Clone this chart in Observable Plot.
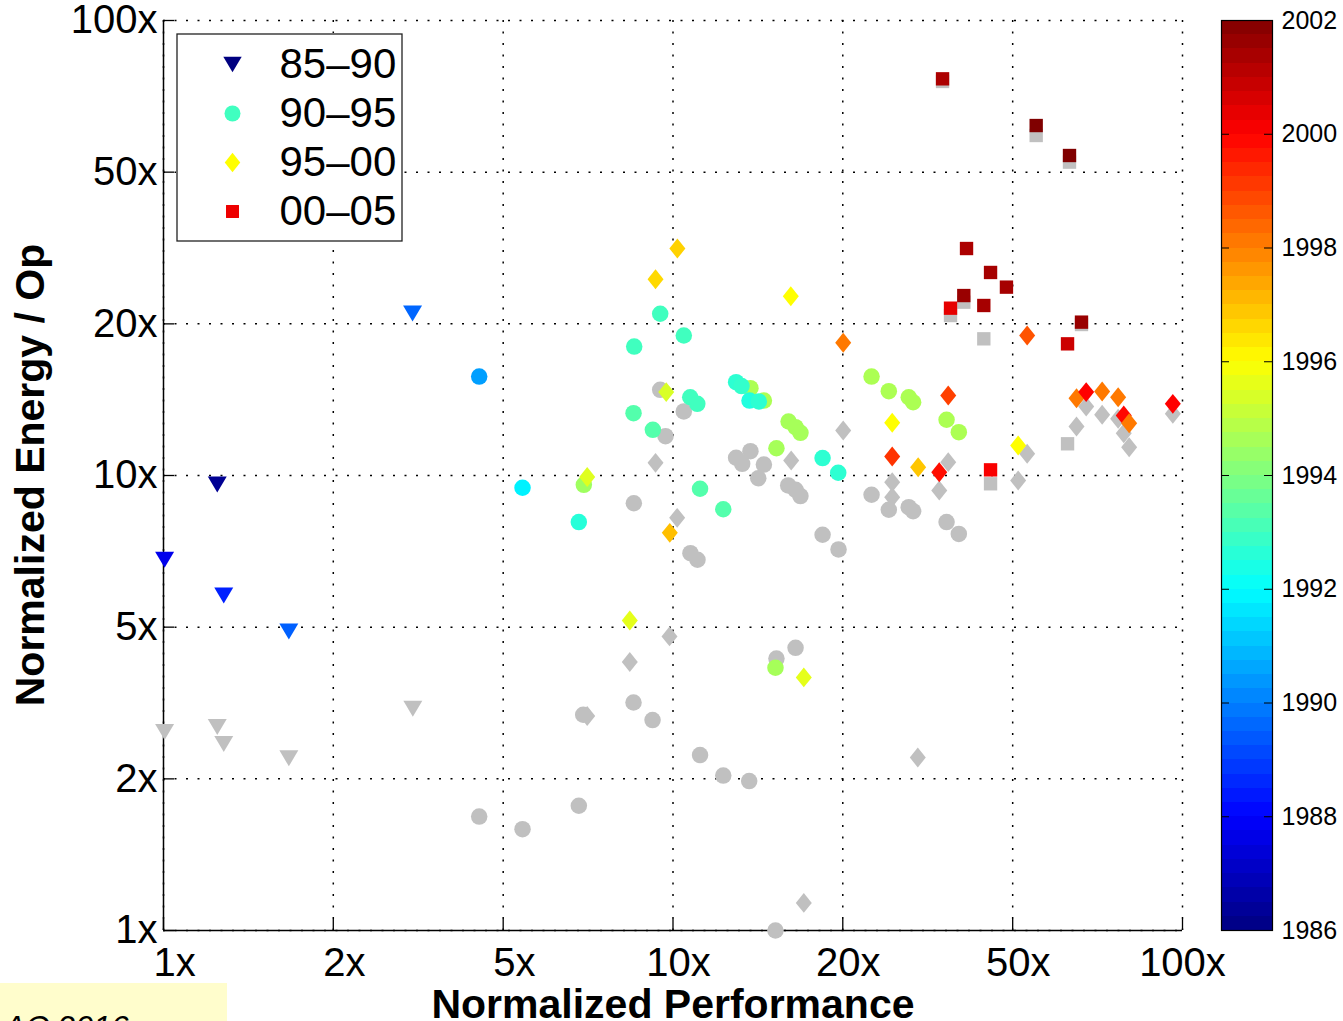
<!DOCTYPE html>
<html>
<head>
<meta charset="utf-8">
<script src="https://cdn.jsdelivr.net/npm/d3@7"></script>
<script src="https://cdn.jsdelivr.net/npm/@observablehq/plot@0.6"></script>
<style>
  html, body { margin: 0; padding: 0; width: 1343px; height: 1021px; overflow: hidden; background: #fff; }
  #wrap { position: relative; width: 1343px; height: 1021px; overflow: hidden; font-family: "Liberation Sans", Arial, Helvetica, sans-serif; color: #000; }
  .abs { position: absolute; }
  .abs svg { display: block; }
  #ytitle { left: -270px; top: 450px; width: 600px; height: 50px; line-height: 50px; text-align: center; font-size: 41px; font-weight: bold; transform: rotate(-90deg); white-space: nowrap; }
  #xtitle { left: 373px; top: 979px; width: 600px; height: 50px; line-height: 50px; text-align: center; font-size: 41px; font-weight: bold; white-space: nowrap; }
  #note { left: 0; top: 983px; width: 227px; height: 60px; background: #fffdcc; }
  #note span { position: absolute; left: 4px; top: 24px; font-size: 32px; line-height: 40px; font-style: italic; white-space: nowrap; }
</style>
</head>
<body>
<div id="wrap"></div>
<script>
// ---------------- data ----------------
// axis ticks (evenly spaced on the log axis) and their printed labels
const xTicks = [1, 2.154, 4.642, 10, 21.54, 46.42, 100];
const xTickLabels = ["\u00a0\u00a01x", "\u00a0\u00a02x", "\u00a0\u00a05x", "\u00a010x", "\u00a020x", "\u00a050x", "100x"];
const yTicks = [1, 2.154, 4.642, 10, 21.54, 46.42, 100];
const yTickLabels = ["1x", "2x", "5x", "10x", "20x", "50x", "100x"];
const yearTicks = [1986, 1988, 1990, 1992, 1994, 1996, 1998, 2000, 2002];
const legendLabels = ["85\u201390", "90\u201395", "95\u201300", "00\u201305"];
const legendColors = ["#000080", "#40ffc0", "#ffff00", "#ee0000"];
const xTitle = "Normalized Performance";
const yTitle = "Normalized Energy / Op";
const noteText = "AC 2016";

// [normalized performance, normalized energy/op, year]
const tri8590 = [
  [1.005, 6.53, 1987.7], [1.275, 9.555, 1986.3], [1.313, 5.45, 1988.5],
  [1.762, 4.54, 1989.5], [3.082, 22.70, 1989.6]
];
const circ9095 = [
  [4.165, 16.50, 1990.5], [5.066, 9.40, 1991.8], [6.534, 7.90, 1992.6], [6.683, 9.54, 1994.5],
  [8.392, 19.20, 1993.0], [9.438, 22.67, 1993.0], [10.50, 20.31, 1993.0], [8.366, 13.71, 1993.3],
  [9.130, 12.60, 1993.3], [10.81, 14.86, 1993.0], [11.16, 14.37, 1993.0], [11.30, 9.35, 1993.3],
  [12.55, 8.43, 1993.3], [14.19, 15.56, 1994.7], [13.30, 16.04, 1992.7], [13.63, 15.72, 1992.8],
  [15.08, 14.61, 1994.7], [14.13, 14.61, 1992.5], [14.74, 14.54, 1992.7], [16.86, 13.14, 1994.6],
  [17.40, 12.77, 1994.6], [17.79, 12.41, 1994.6], [15.96, 11.48, 1994.6], [19.66, 10.92, 1992.7],
  [21.10, 10.14, 1992.7], [15.89, 3.78, 1994.6], [24.53, 16.50, 1994.7], [26.52, 15.32, 1994.7],
  [29.02, 14.86, 1994.7], [29.60, 14.49, 1994.7], [34.43, 13.26, 1994.7], [36.39, 12.45, 1994.7]
];
const diam9500 = [
  [10.20, 31.54, 1996.7], [9.241, 27.01, 1996.6], [17.03, 24.78, 1996.0], [21.58, 19.57, 1998.1],
  [9.698, 15.25, 1995.4], [26.93, 13.06, 1996.0], [26.93, 11.01, 1999.2], [6.786, 9.92, 1995.5],
  [9.856, 7.48, 1997.0], [8.226, 4.80, 1995.6], [18.06, 3.60, 1995.6], [34.69, 14.99, 1999.0],
  [30.28, 10.43, 1996.9], [33.31, 10.17, 1999.8], [47.58, 11.64, 1996.0], [49.56, 20.31, 1998.7],
  [61.94, 14.79, 1998.1], [64.71, 15.25, 2000.0], [69.55, 15.30, 1998.1], [74.76, 14.86, 1998.1],
  [76.68, 13.55, 1999.9], [78.58, 13.03, 1998.1], [95.72, 14.37, 2000.0]
];
const sq0005 = [
  [33.81, 74.44, 2001.3], [51.62, 58.77, 2002.0], [60.01, 50.50, 2002.0], [37.68, 31.54, 2001.3],
  [42.00, 27.94, 2001.4], [45.13, 25.94, 2001.4], [37.22, 24.86, 2001.6], [35.05, 23.32, 2000.4],
  [40.74, 23.64, 2001.4], [63.35, 21.73, 2001.6], [59.48, 19.47, 2000.8], [42.00, 10.29, 2000.1]
];
// grey (second normalization) counterparts: [performance, energy/op]
const triGrey = [[1.005, 2.73], [1.275, 2.80], [1.313, 2.57], [1.762, 2.39], [3.086, 3.07]];
const circGrey = [
  [4.165, 1.78], [5.066, 1.67], [6.534, 1.88], [6.665, 2.98], [8.366, 3.17], [9.117, 2.90],
  [8.378, 8.69], [9.438, 15.43], [9.667, 12.20], [10.50, 13.83], [10.82, 6.75], [11.17, 6.53],
  [11.30, 2.43], [12.55, 2.19], [14.11, 2.13], [13.30, 10.94], [13.67, 10.61], [14.19, 11.31],
  [15.08, 10.57], [14.70, 9.86], [16.83, 9.51], [17.40, 9.30], [17.79, 9.01], [17.40, 4.18],
  [15.96, 3.96], [15.89, 1.00], [19.66, 7.41], [21.13, 6.88], [24.53, 9.07], [26.52, 8.41],
  [29.02, 8.52], [29.60, 8.35], [34.43, 7.90], [36.39, 7.44]
];
const diamGrey = [
  [9.241, 10.66], [10.19, 8.07], [9.843, 4.43], [8.226, 3.89], [6.786, 2.96], [17.06, 10.79],
  [21.58, 12.56], [18.06, 1.15], [30.23, 2.40], [26.93, 9.67], [26.93, 8.96], [33.31, 9.27],
  [34.69, 10.70], [49.56, 11.16], [47.58, 9.75], [64.71, 14.18], [61.94, 12.82], [69.55, 13.60],
  [74.76, 13.32], [76.68, 12.39], [78.58, 11.54], [95.72, 13.67]
];
const sqGrey = [
  [33.81, 73.45], [51.62, 55.88], [60.01, 48.83], [37.22, 24.04], [35.05, 22.47],
  [63.35, 21.47], [40.74, 19.97], [42.00, 9.59], [59.48, 11.74]
];

// jet colormap anchors (MATLAB jet)
const jetDomain = [1986, 1988, 1992, 1996, 2000, 2002];
const jetRange = ["#000080", "#0000ff", "#00ffff", "#ffff00", "#ff0000", "#800000"];

// ---------------- styles ----------------
const GREY = "#c0c0c0";
const FONT = '"Liberation Sans", Arial, Helvetica, sans-serif';
const symTri = {draw(c, s) { const r = Math.sqrt(s / Math.PI), w = r * 1.15, h = r * 0.97; c.moveTo(-w, -h); c.lineTo(w, -h); c.lineTo(0, h); c.closePath(); }};
const symDia = {draw(c, s) { const r = Math.sqrt(s / Math.PI), w = r * 0.97, h = r * 1.21; c.moveTo(0, -h); c.lineTo(w, 0); c.lineTo(0, h); c.lineTo(-w, 0); c.closePath(); }};
const symSq = {draw(c, s) { const r = Math.sqrt(s / Math.PI), a = r * 0.81; c.moveTo(-a, -a); c.lineTo(a, -a); c.lineTo(a, a); c.lineTo(-a, a); c.closePath(); }};
const symCirc = {draw(c, s) { const r = Math.sqrt(s / Math.PI); c.moveTo(r, 0); c.arc(0, 0, r, 0, 2 * Math.PI); }};
const legendSymbols = [symTri, symCirc, symDia, symSq];
const R = 8.25;
const dotOpts = (symbol, fill) => ({x: d => d[0], y: d => d[1], symbol, r: R, fill, stroke: "none"});

const wrap = document.getElementById("wrap");
function place(node, left, top, id) {
  const div = document.createElement("div");
  div.className = "abs";
  if (id) div.id = id;
  div.style.left = left + "px";
  div.style.top = top + "px";
  div.appendChild(node);
  wrap.appendChild(div);
  return div;
}

// ---------------- main scatter ----------------
const W = 1200, H = 1021, ML = 163, MR = 18, MT = 20, MB = 91;
const plotW = W - ML - MR, plotH = H - MT - MB;
const gridStyle = {stroke: "#000", strokeWidth: 1.5, strokeDasharray: "2,9.5"};

const main = Plot.plot({
  width: W, height: H,
  marginLeft: ML, marginRight: MR, marginTop: MT, marginBottom: MB,
  x: {type: "log", domain: [xTicks[0], xTicks[xTicks.length - 1]], axis: null},
  y: {type: "log", domain: [yTicks[0], yTicks[yTicks.length - 1]], axis: null},
  color: {type: "linear", domain: jetDomain, range: jetRange, interpolate: "rgb"},
  style: {fontFamily: FONT, background: "transparent", color: "#000", overflow: "visible"},
  marks: [
    Plot.ruleX(xTicks, {x: d => d, ...gridStyle}),
    Plot.ruleY(yTicks, {y: d => d, ...gridStyle}),
    Plot.ruleX([xTicks[0]], {x: d => d, stroke: "#000", strokeWidth: 1.5}),
    Plot.ruleY([yTicks[0]], {y: d => d, stroke: "#000", strokeWidth: 1.5}),
    Plot.tickX(xTicks, {x: d => d, insetTop: plotH - 11, stroke: "#000", strokeWidth: 1.3}),
    Plot.tickY(yTicks, {y: d => d, insetRight: plotW - 11, stroke: "#000", strokeWidth: 1.3}),
    Plot.axisX(xTicks, {tickSize: 0, tickPadding: 17, fontSize: 40, label: null,
      tickFormat: d => xTickLabels[xTicks.indexOf(d)]}),
    Plot.axisY(yTicks, {tickSize: 0, tickPadding: 6, fontSize: 40, label: null,
      tickFormat: d => yTickLabels[yTicks.indexOf(d)]}),
    // grey counterparts first
    Plot.dot(triGrey, dotOpts(symTri, GREY)),
    Plot.dot(circGrey, dotOpts(symCirc, GREY)),
    Plot.dot(diamGrey, dotOpts(symDia, GREY)),
    Plot.dot(sqGrey, dotOpts(symSq, GREY)),
    // coloured by year
    Plot.dot(tri8590, dotOpts(symTri, d => d[2])),
    Plot.dot(circ9095, dotOpts(symCirc, d => d[2])),
    Plot.dot(diam9500, dotOpts(symDia, d => d[2])),
    Plot.dot(sq0005, dotOpts(symSq, d => d[2]))
  ]
});
place(main, 0, 0);

// ---------------- colorbar ----------------
const bands = d3.range(64).map(i => [jetDomain[0] + i * 0.25, jetDomain[0] + (i + 1) * 0.25]);
const CBW = 123, CBL = 1, CBR = 71;
const cbInner = CBW - CBL - CBR;
const colorbar = Plot.plot({
  width: CBW, height: H,
  marginLeft: CBL, marginRight: CBR, marginTop: MT, marginBottom: MB,
  y: {domain: [yearTicks[0], yearTicks[yearTicks.length - 1]], axis: null},
  color: {type: "linear", domain: jetDomain, range: jetRange, interpolate: "rgb"},
  style: {fontFamily: FONT, background: "transparent", color: "#000", overflow: "visible"},
  marks: [
    Plot.rect(bands, {y1: d => d[0], y2: d => d[1], fill: d => (d[0] + d[1]) / 2, shapeRendering: "crispEdges"}),
    Plot.tickY(yearTicks, {y: d => d, insetRight: cbInner - 8, stroke: "#000"}),
    Plot.tickY(yearTicks, {y: d => d, insetLeft: cbInner - 8, stroke: "#000"}),
    Plot.frame({stroke: "#000", strokeWidth: 1.2}),
    Plot.axisY(yearTicks, {anchor: "right", tickSize: 0, tickPadding: 9, fontSize: 25, label: null,
      tickFormat: d => String(d)})
  ]
});
place(colorbar, 1221 - CBL, 0);

// ---------------- legend ----------------
const LW = 226, LH = 208;
const legend = Plot.plot({
  width: LW, height: LH, margin: 0,
  y: {type: "point", domain: legendLabels, range: [30, 179], padding: 0, axis: null},
  style: {fontFamily: FONT, background: "#fff", color: "#000", overflow: "visible"},
  marks: [
    Plot.frame({stroke: "#222", strokeWidth: 1.3, inset: 0.5}),
    ...legendLabels.map((lab, i) => Plot.dot([lab], {y: d => d, symbol: legendSymbols[i], r: 8, fill: legendColors[i], stroke: "none", dx: 232 - 176 - LW / 2})),
    Plot.text(legendLabels, {y: d => d, text: d => d, textAnchor: "start", fontSize: 42, dx: 279 - 176 - LW / 2})
  ]
});
place(legend, 176, 33);

// ---------------- titles & note ----------------
function textDiv(id, txt) {
  const d = document.createElement("div");
  d.className = "abs";
  d.id = id;
  d.textContent = txt;
  wrap.appendChild(d);
  return d;
}
textDiv("ytitle", yTitle);
textDiv("xtitle", xTitle);
const note = document.createElement("div");
note.className = "abs";
note.id = "note";
const span = document.createElement("span");
span.textContent = noteText;
note.appendChild(span);
wrap.appendChild(note);
</script>
</body>
</html>
